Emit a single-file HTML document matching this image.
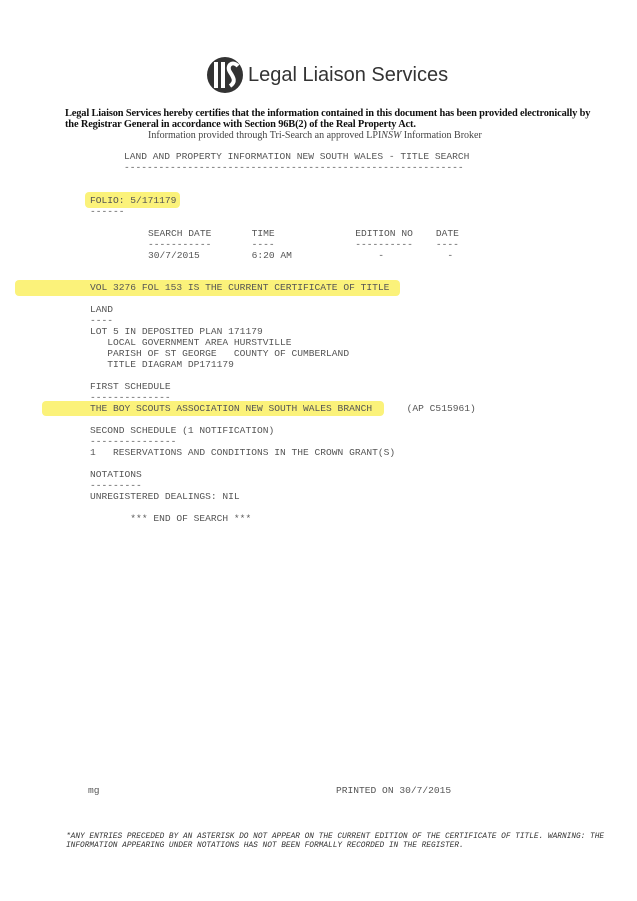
<!DOCTYPE html>
<html><head><style>
body{margin:0;width:637px;height:901px;background:#fff;position:relative;overflow:hidden}
.m{position:absolute;font-family:"Liberation Mono",monospace;font-size:9.6px;color:#555;white-space:pre;line-height:11px}
.hl{position:absolute;background:#fbf27a;border-radius:4px}
.s{position:absolute;font-family:"Liberation Serif",serif;white-space:nowrap;color:#111}
</style></head><body>
<div class="hl" style="left:85px;top:192px;width:95px;height:16px"></div>
<div class="hl" style="left:15px;top:280px;width:385px;height:16px"></div>
<div class="hl" style="left:42px;top:401px;width:342px;height:15px"></div>
<svg style="position:absolute;left:206px;top:56px" width="38" height="38" viewBox="0 0 38 38">
<circle cx="19" cy="19" r="18" fill="#333"/>
<rect x="8" y="6" width="4" height="26" fill="#fff"/><rect x="15" y="6" width="4" height="26" fill="#fff"/>
<path d="M32 10 C26 4,20 10,24 16 C28 22,30 26,24 30" stroke="#fff" stroke-width="4" fill="none"/>
</svg>
<div class="s" style="left:248px;top:64px;font-family:'Liberation Sans',sans-serif;font-size:20px;color:#333">Legal Liaison Services</div>
<div class="s" style="left:65px;top:108px;font-size:10.4px;font-weight:bold;letter-spacing:-0.15px">Legal Liaison Services hereby certifies that the information contained in this document has been provided electronically by</div>
<div class="s" style="left:65px;top:119px;font-size:10.4px;font-weight:bold;letter-spacing:-0.15px">the Registrar General in accordance with Section 96B(2) of the Real Property Act.</div>
<div class="s" style="left:148px;top:130px;font-size:10px;color:#444">Information provided through Tri-Search an approved LPI<i>NSW</i> Information Broker</div>
<div class="m" style="left:124px;top:151px">LAND AND PROPERTY INFORMATION NEW SOUTH WALES - TITLE SEARCH
-----------------------------------------------------------</div>
<div class="m" style="left:90px;top:195px">FOLIO: 5/171179
------</div>
<div class="m" style="left:148px;top:228px">SEARCH DATE       TIME              EDITION NO    DATE
-----------       ----              ----------    ----
30/7/2015         6:20 AM               -           -</div>
<div class="m" style="left:90px;top:282px">VOL 3276 FOL 153 IS THE CURRENT CERTIFICATE OF TITLE

LAND
----
LOT 5 IN DEPOSITED PLAN 171179
   LOCAL GOVERNMENT AREA HURSTVILLE
   PARISH OF ST GEORGE   COUNTY OF CUMBERLAND
   TITLE DIAGRAM DP171179

FIRST SCHEDULE
--------------
THE BOY SCOUTS ASSOCIATION NEW SOUTH WALES BRANCH      (AP C515961)

SECOND SCHEDULE (1 NOTIFICATION)
---------------
1   RESERVATIONS AND CONDITIONS IN THE CROWN GRANT(S)

NOTATIONS
---------
UNREGISTERED DEALINGS: NIL

       *** END OF SEARCH ***</div>
<div class="m" style="left:88px;top:785px">mg</div>
<div class="m" style="left:336px;top:785px">PRINTED ON 30/7/2015</div>
<div class="m" style="left:66px;top:833px;font-size:7.8px;line-height:9px;font-style:italic;color:#333">*ANY ENTRIES PRECEDED BY AN ASTERISK DO NOT APPEAR ON THE CURRENT EDITION OF THE CERTIFICATE OF TITLE. WARNING: THE
INFORMATION APPEARING UNDER NOTATIONS HAS NOT BEEN FORMALLY RECORDED IN THE REGISTER.</div>
</body></html>
